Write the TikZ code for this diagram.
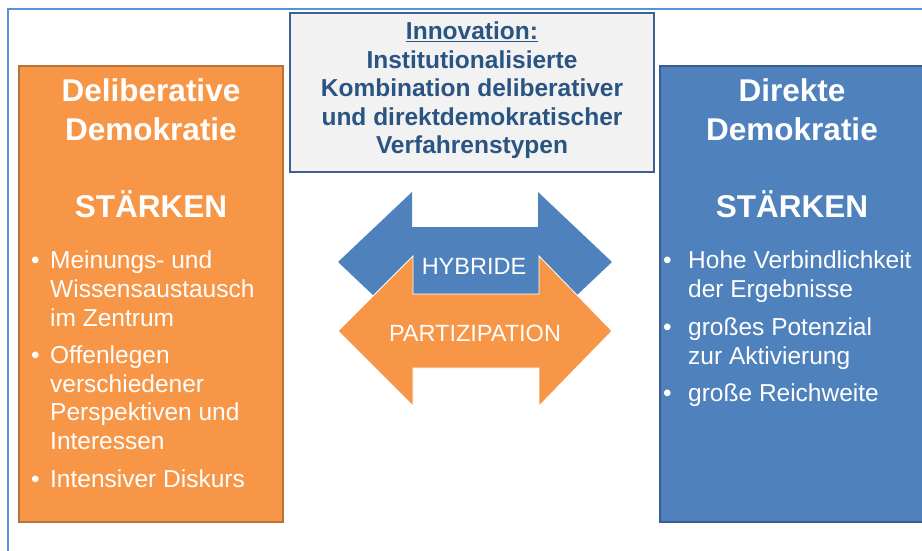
\documentclass[tikz,border=0pt]{standalone}
\usepackage{fontspec}
\setmainfont{Liberation Sans}
\usetikzlibrary{positioning, calc}
\definecolor{orng}{HTML}{F79646}
\definecolor{orngdark}{HTML}{B8733A}
\definecolor{blu}{HTML}{4F81BD}
\definecolor{bludark}{HTML}{3A5F8F}
\definecolor{framecol}{HTML}{5594D6}
\definecolor{innotext}{HTML}{2A5482}
\definecolor{innoframe}{HTML}{3D6192}
\tikzset{
  pillar/.style={rectangle, line width=1.5pt, minimum width=264pt, minimum height=456pt, inner sep=0pt},
  headtext/.style={text=white, font=\fontsize{31.5}{38.5}\selectfont\bfseries, inner sep=0pt, anchor=base},
  listtext/.style={text=white, font=\fontsize{24.5}{29}\selectfont, inner sep=0pt, anchor=base west},
  arrowtext/.style={text=white, font=\fontsize{23.5}{28}\selectfont, inner sep=0pt},
  innobox/.style={rectangle, draw=innoframe, fill=black!5, line width=2pt, minimum width=364pt, minimum height=159pt, inner sep=0pt}
}

\begin{document}
\begin{tikzpicture}[x=1pt, y=-1pt]
\useasboundingbox (0,0) rectangle (922,551);

% outer frame
\draw[framecol, line width=2pt] (8,551) -- (8,9) -- (922,9);

% the two pillars
\node[pillar, draw=orngdark, fill=orng] (delib) at (151,294) {};
\node[pillar, draw=bludark, fill=blu] (direkt) at (792,294) {};

\node[headtext] (delibT) at (151,102)
  {\begin{tabular}[t]{@{}c@{}}Deliberative\\Demokratie\\[38.5pt]STÄRKEN\end{tabular}};
\node[headtext] (direktT) at (792,102)
  {\begin{tabular}[t]{@{}c@{}}Direkte\\Demokratie\\[38.5pt]STÄRKEN\end{tabular}};

\node[listtext] (delibL) at (31,268)
  {\begin{tabular}[t]{@{}p{19pt}@{}l@{}}
   \textbullet & Meinungs- und\\ & Wissensaustausch\\ & im Zentrum\\[8pt]
   \textbullet & Offenlegen\\ & verschiedener\\ & Perspektiven und\\ & Interessen\\[8pt]
   \textbullet & Intensiver Diskurs
   \end{tabular}};
\node[listtext] (direktL) at (663,268)
  {\begin{tabular}[t]{@{}p{25pt}@{}l@{}}
   \textbullet & Hohe Verbindlichkeit\\ & der Ergebnisse\\[9pt]
   \textbullet & großes Potenzial\\ & zur Aktivierung\\[9pt]
   \textbullet & große Reichweite
   \end{tabular}};

% innovation box
\node[innobox] (inno) at (472,92.5) {};
\node[text=innotext, font=\fontsize{24.5}{28.5}\selectfont\bfseries, inner sep=0pt, anchor=base] (innoT) at (472,40)
  {\begin{tabular}[t]{@{}c@{}}\underline{Innovation:}\\Institutionalisierte\\Kombination deliberativer\\und direktdemokratischer\\Verfahrenstypen\end{tabular}};

% double arrows
\fill[blu] (338,262) -- (412,192) -- (412,227) -- (538,227) -- (538,192) -- (612,262)
  -- (538,332) -- (538,298) -- (412,298) -- (412,332) -- cycle;
\filldraw[fill=orng, draw=white, line width=0.8pt] (338,331) -- (413,256) -- (413,294) -- (539,294) -- (539,256) -- (612,331)
  -- (539,406) -- (539,368) -- (413,368) -- (413,406) -- cycle;
\node[arrowtext] (hybT) at (474,266) {HYBRIDE};
\node[arrowtext] (partT) at (475,333) {PARTIZIPATION};

\end{tikzpicture}
\end{document}
